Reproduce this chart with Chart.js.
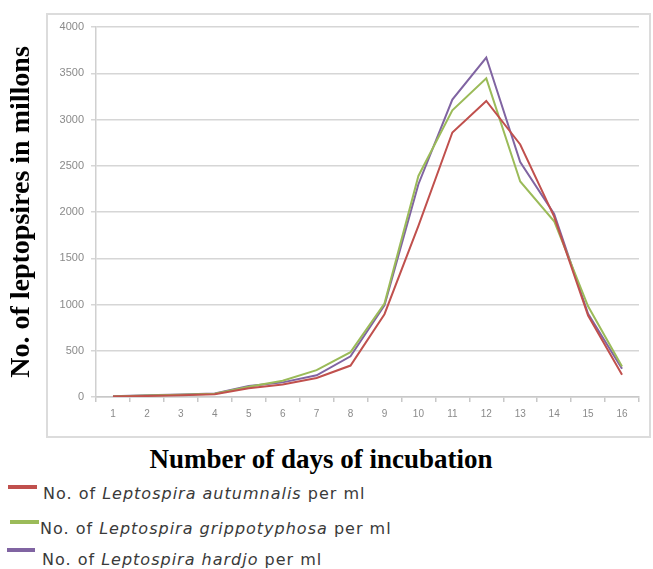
<!DOCTYPE html>
<html><head><meta charset="utf-8">
<script src="https://cdn.jsdelivr.net/npm/chart.js@4.4.1/dist/chart.umd.min.js"></script>
<style>
html,body{margin:0;padding:0;background:#fff;}
#wrap{position:relative;width:653px;height:569px;overflow:hidden;background:#fff;}
#frame{position:absolute;left:46px;top:13px;width:601px;height:421px;border:2px solid #DCDCDC;}
#cv{position:absolute;left:0;top:0;}
#xtitle{position:absolute;left:0;width:642px;top:444px;line-height:32px;text-align:center;font:bold 27px 'Liberation Serif',serif;color:#000;white-space:nowrap;}
.leg{position:absolute;font:16px 'DejaVu Sans',sans-serif;letter-spacing:1px;color:#3a3a3a;white-space:nowrap;line-height:20px;}
.sw{position:absolute;height:4px;}
</style></head>
<body>
<div id="wrap">
  <div id="frame"></div>
  <canvas id="cv" width="653" height="440"></canvas>
  <div id="xtitle"></div>
  <div id="legend"></div>
</div>
<script>
// ---- data ----
const days = ['1','2','3','4','5','6','7','8','9','10','11','12','13','14','15','16'];
const autumnalis    = [5, 12, 20, 30, 95, 135, 205, 340, 895, 1850, 2860, 3200, 2730, 1950, 880, 240];
const grippotyphosa = [5, 15, 25, 35, 110, 175, 290, 485, 1010, 2390, 3100, 3445, 2330, 1900, 980, 330];
const hardjo        = [8, 18, 28, 38, 120, 158, 235, 440, 990, 2300, 3215, 3670, 2540, 1980, 900, 305];
const speciesNames  = ['autumnalis', 'grippotyphosa', 'hardjo'];
const yTitle = 'No. of leptopsires in millons';
const xTitle = 'Number of days of incubation';

const colors = ['#C0504D', '#9BBB59', '#8064A2'];
const seriesData = [autumnalis, grippotyphosa, hardjo];

const datasets = speciesNames.map((n, i) => ({
  label: 'No. of Leptospira ' + n + ' per ml',
  data: seriesData[i],
  borderColor: colors[i],
  backgroundColor: colors[i],
  borderWidth: 2,
  pointRadius: 0,
  tension: 0,
  fill: false
}));

new Chart(document.getElementById('cv'), {
  type: 'line',
  data: { labels: days, datasets: datasets },
  options: {
    responsive: false,
    animation: false,
    layout: { padding: { left: 0, right: 14, top: 27, bottom: 0 } },
    plugins: { legend: { display: false }, tooltip: { enabled: false }, title: { display: false } },
    scales: {
      x: {
        type: 'category',
        offset: true,
        afterFit: s => { s.height = 43; },
        grid: { display: true, drawOnChartArea: false, drawTicks: true, offset: true, tickLength: 5, color: '#C8C8C8', lineWidth: 1.5 },
        border: { display: true, color: '#C8C8C8', width: 1.5 },
        ticks: { color: '#8a8a8a', font: { family: 'Liberation Sans', size: 10 }, padding: 6, maxRotation: 0, autoSkip: false }
      },
      y: {
        min: 0, max: 4000,
        afterFit: s => { s.width = 96; },
        grid: { color: '#D6D6D6', lineWidth: 1.5, tickLength: 5, drawTicks: true },
        border: { display: true, color: '#D0D0D0', width: 1.5 },
        ticks: { stepSize: 500, color: '#8a8a8a', font: { family: 'Liberation Sans', size: 11 }, padding: 7,
                 format: { useGrouping: false } },
        title: {
          display: true, text: yTitle, color: '#000',
          font: { family: 'Liberation Serif', size: 28, weight: 'bold' },
          padding: { top: 5, bottom: 0 }
        }
      }
    }
  }
});

document.getElementById('xtitle').textContent = xTitle;

// HTML legend (mixed italic text)
const legRows = [
  { sx: 8,  sy: 485, sw: 29, tx: 43, ty: 484 },
  { sx: 10, sy: 520, sw: 29, tx: 40, ty: 519 },
  { sx: 7,  sy: 548, sw: 28, tx: 42, ty: 550 }
];
const legend = document.getElementById('legend');
speciesNames.forEach((n, i) => {
  const r = legRows[i];
  const sw = document.createElement('div');
  sw.className = 'sw';
  sw.style.cssText = `left:${r.sx}px;top:${r.sy}px;width:${r.sw}px;background:${colors[i]};`;
  legend.appendChild(sw);
  const t = document.createElement('div');
  t.className = 'leg';
  t.style.left = r.tx + 'px';
  t.style.top = r.ty + 'px';
  t.innerHTML = 'No. of <i>Leptospira ' + n + '</i> per ml';
  legend.appendChild(t);
});
</script>
</body></html>
